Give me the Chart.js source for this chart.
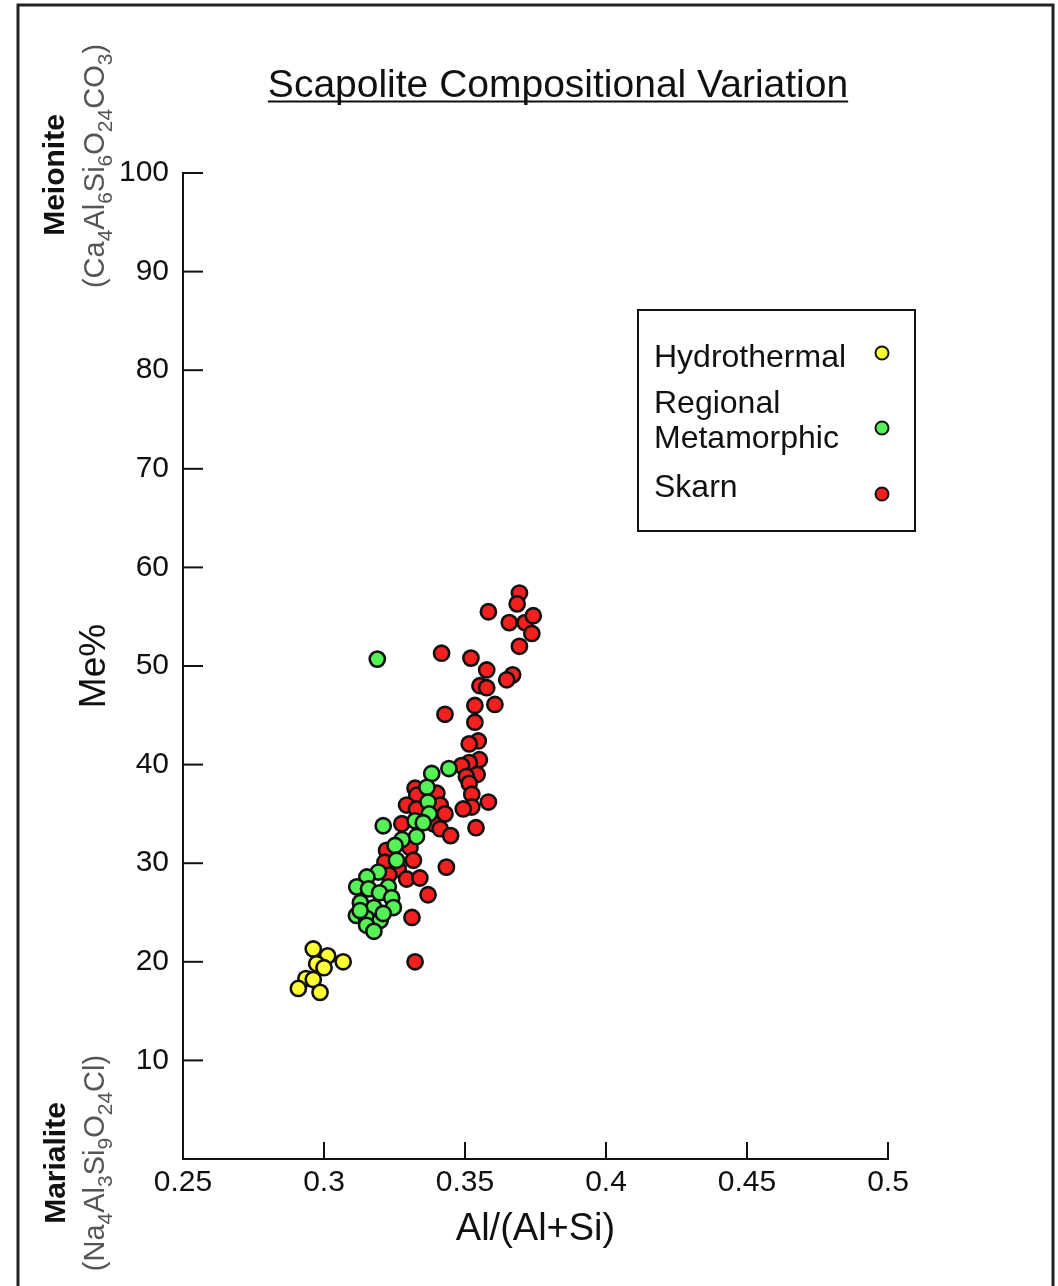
<!DOCTYPE html>
<html>
<head>
<meta charset="utf-8">
<title>Scapolite Compositional Variation</title>
<script src="https://cdn.jsdelivr.net/npm/chart.js@4.4.1/dist/chart.umd.min.js"></script>
<style>
    html, body { margin: 0; padding: 0; background: #fff; }
    #wrap { position: relative; width: 1058px; height: 1286px; }
</style>
</head>
<body>
<div id="wrap"><canvas id="scapoliteChart" width="1058" height="1286"></canvas></div>
<script>
// --- data ---
const seriesNames = ['Hydrothermal', 'Regional Metamorphic', 'Skarn'];

const hydroX = [0.2962, 0.3013, 0.3068, 0.2974, 0.3000, 0.2936, 0.2962, 0.2909, 0.2986];
const hydroY = [21.3, 20.6, 20.0, 19.8, 19.4, 18.3, 18.2, 17.3, 16.9];

const regionalX = [0.3189, 0.3382, 0.3443, 0.3365, 0.3369, 0.3373, 0.3323, 0.3352, 0.3210, 0.3328,
    0.3277, 0.3252, 0.3257, 0.3193, 0.3152, 0.3116, 0.3158, 0.3228, 0.3197, 0.3240,
    0.3246, 0.3129, 0.3177, 0.3115, 0.3151, 0.3199, 0.3210, 0.3151, 0.3177, 0.3128];
const regionalY = [50.7, 39.1, 39.6, 37.7, 36.2, 35.0, 34.3, 34.1, 33.8, 32.7,
    32.4, 31.8, 30.3, 29.1, 28.6, 27.6, 27.4, 27.6, 27.0, 26.5,
    25.5, 26.0, 25.5, 24.7, 24.4, 24.2, 24.9, 23.7, 23.1, 25.2];

const skarnX = [0.3693, 0.3685, 0.3583, 0.3657, 0.3713, 0.3742, 0.3737, 0.3693, 0.3417, 0.3521,
    0.3577, 0.3669, 0.3648, 0.3553, 0.3577, 0.3606, 0.3535, 0.3429, 0.3535, 0.3547,
    0.3515, 0.3551, 0.3515, 0.3488, 0.3543, 0.3505, 0.3515, 0.3524, 0.3583, 0.3524,
    0.3494, 0.3539, 0.3323, 0.3329, 0.3400, 0.3293, 0.3328, 0.3412, 0.3429, 0.3276,
    0.3388, 0.3412, 0.3449, 0.3305, 0.3222, 0.3317, 0.3216, 0.3263, 0.3434, 0.3230,
    0.3293, 0.3340, 0.3369, 0.3312, 0.3323];
const skarnY = [57.4, 56.3, 55.5, 54.4, 54.4, 55.1, 53.3, 52.0, 51.3, 50.8,
    49.6, 49.1, 48.6, 48.0, 47.8, 46.1, 46.0, 45.1, 44.3, 42.4,
    42.1, 40.5, 40.2, 39.9, 39.0, 38.8, 38.1, 37.0, 36.2, 35.7,
    35.5, 33.6, 37.6, 36.9, 37.1, 35.9, 35.5, 35.9, 35.0, 34.0,
    34.0, 33.5, 32.8, 31.6, 31.3, 30.3, 30.1, 29.4, 29.6, 28.8,
    28.4, 28.5, 26.8, 24.5, 20.0];

const xTicks = [0.25, 0.3, 0.35, 0.4, 0.45, 0.5];
const xTickLabels = ['0.25', '0.3', '0.35', '0.4', '0.45', '0.5'];
const yTicks = [10, 20, 30, 40, 50, 60, 70, 80, 90, 100];
const yTickLabels = ['10', '20', '30', '40', '50', '60', '70', '80', '90', '100'];

const seriesColors = ['#ffff33', '#55f255', '#f42020'];

const toPoints = (xs, ys) => xs.map((x, i) => ({ x: x, y: ys[i] }));

const FONT = '"Liberation Sans", Arial, Helvetica, sans-serif';

// draws a rotated (bottom-to-top) string made of normal / subscript parts
const drawRotatedFormula = (ctx, parts, cx, cy, size, subSize, color) => {
    ctx.save();
    ctx.translate(cx, cy);
    ctx.rotate(-Math.PI / 2);
    ctx.fillStyle = color;
    ctx.textBaseline = 'alphabetic';
    ctx.textAlign = 'left';
    let total = 0;
    parts.forEach(([txt, sub]) => {
        ctx.font = `${sub ? subSize : size}px ${FONT}`;
        total += ctx.measureText(txt).width;
    });
    let pos = -total / 2;
    parts.forEach(([txt, sub]) => {
        ctx.font = `${sub ? subSize : size}px ${FONT}`;
        ctx.fillText(txt, pos, sub ? size * 0.28 : 0);
        pos += ctx.measureText(txt).width;
    });
    ctx.restore();
};

const decorPlugin = {
    id: 'decor',
    beforeDatasetsDraw(chart) {
        const { ctx, scales: { x, y } } = chart;
        ctx.save();
        ctx.strokeStyle = '#111';
        ctx.lineWidth = 2;
        // inward tick marks
        yTicks.forEach(v => {
            const py = y.getPixelForValue(v);
            ctx.beginPath();
            ctx.moveTo(x.left, py);
            ctx.lineTo(x.left + 20, py);
            ctx.stroke();
        });
        xTicks.slice(1).forEach(v => {
            const px = x.getPixelForValue(v);
            ctx.beginPath();
            ctx.moveTo(px, y.bottom);
            ctx.lineTo(px, y.bottom - 17);
            ctx.stroke();
        });
        ctx.restore();
    },
    afterDraw(chart) {
        const { ctx } = chart;
        ctx.save();

        // outer frame
        ctx.strokeStyle = '#222';
        ctx.lineWidth = 3;
        ctx.strokeRect(18, 5, 1035, 1320);

        // title, underlined
        ctx.fillStyle = '#111';
        ctx.font = `39px ${FONT}`;
        ctx.textAlign = 'center';
        ctx.textBaseline = 'alphabetic';
        const title = 'Scapolite Compositional Variation';
        ctx.fillText(title, 558, 97);
        const tw = ctx.measureText(title).width;
        ctx.lineWidth = 2;
        ctx.strokeStyle = '#111';
        ctx.beginPath();
        ctx.moveTo(558 - tw / 2, 101.5);
        ctx.lineTo(558 + tw / 2, 101.5);
        ctx.stroke();

        // end-member labels on the left
        ctx.save();
        ctx.translate(64, 175);
        ctx.rotate(-Math.PI / 2);
        ctx.font = `bold 30px ${FONT}`;
        ctx.textAlign = 'center';
        ctx.fillText('Meionite', 0, 0);
        ctx.restore();
        drawRotatedFormula(ctx, [['(Ca', false], ['4', true], ['Al', false], ['6', true], ['Si', false], ['6', true],
            ['O', false], ['24', true], ['CO', false], ['3', true], [')', false]], 104, 166, 29, 21, '#555');

        ctx.save();
        ctx.translate(65, 1163);
        ctx.rotate(-Math.PI / 2);
        ctx.font = `bold 30px ${FONT}`;
        ctx.textAlign = 'center';
        ctx.fillText('Marialite', 0, 0);
        ctx.restore();
        drawRotatedFormula(ctx, [['(Na', false], ['4', true], ['Al', false], ['3', true], ['Si', false], ['9', true],
            ['O', false], ['24', true], ['Cl)', false]], 104, 1163, 29, 21, '#555');

        // legend box
        ctx.lineWidth = 2;
        ctx.strokeStyle = '#111';
        ctx.strokeRect(638, 310, 277, 221);
        ctx.font = `32px ${FONT}`;
        ctx.textAlign = 'left';
        ctx.fillStyle = '#111';
        ctx.fillText('Hydrothermal', 654, 367);
        ctx.fillText('Regional', 654, 413);
        ctx.fillText('Metamorphic', 654, 448);
        ctx.fillText('Skarn', 654, 497);
        [[353, 0], [428, 1], [494, 2]].forEach(([cy, i]) => {
            ctx.beginPath();
            ctx.arc(882, cy, 6.5, 0, Math.PI * 2);
            ctx.fillStyle = seriesColors[i];
            ctx.fill();
            ctx.lineWidth = 2;
            ctx.strokeStyle = '#111';
            ctx.stroke();
        });
        ctx.restore();
    }
};

const commonPoint = { pointRadius: 7.6, pointHoverRadius: 7.6, pointBorderWidth: 2.6, pointBorderColor: '#111' };

new Chart(document.getElementById('scapoliteChart'), {
    type: 'scatter',
    data: {
        datasets: [
            { label: seriesNames[0], data: toPoints(hydroX, hydroY), pointBackgroundColor: seriesColors[0], ...commonPoint },
            { label: seriesNames[1], data: toPoints(regionalX, regionalY), pointBackgroundColor: seriesColors[1], ...commonPoint },
            { label: seriesNames[2], data: toPoints(skarnX, skarnY), pointBackgroundColor: seriesColors[2], ...commonPoint }
        ]
    },
    options: {
        responsive: false,
        animation: false,
        events: [],
        layout: { padding: { left: 0, top: 173, right: 170, bottom: 0 } },
        plugins: {
            legend: { display: false },
            tooltip: { enabled: false }
        },
        scales: {
            x: {
                type: 'linear',
                min: 0.25,
                max: 0.5,
                afterBuildTicks: axis => { axis.ticks = xTicks.map(v => ({ value: v })); },
                afterFit: axis => { axis.height = 127; },
                grid: { display: false, drawTicks: false },
                border: { display: true, color: '#111', width: 2 },
                ticks: {
                    autoSkip: false,
                    maxRotation: 0,
                    padding: 6,
                    color: '#111',
                    font: { family: FONT, size: 30 },
                    callback: (v, i) => xTickLabels[i]
                },
                title: {
                    display: true,
                    text: 'Al/(Al+Si)',
                    color: '#111',
                    font: { family: FONT, size: 38 },
                    padding: { top: 0, bottom: 34 }
                }
            },
            y: {
                type: 'linear',
                min: 0,
                max: 100,
                afterBuildTicks: axis => { axis.ticks = yTicks.map(v => ({ value: v })); },
                afterFit: axis => { axis.width = 183; },
                grid: { display: false, drawTicks: false },
                border: { display: true, color: '#111', width: 2 },
                ticks: {
                    autoSkip: false,
                    padding: 14,
                    color: '#111',
                    font: { family: FONT, size: 30 },
                    callback: (v, i) => yTickLabels[i]
                },
                title: {
                    display: true,
                    text: 'Me%',
                    color: '#111',
                    font: { family: FONT, size: 37 },
                    padding: { top: 73, bottom: 0 }
                }
            }
        }
    },
    plugins: [decorPlugin]
});
</script>
</body>
</html>
